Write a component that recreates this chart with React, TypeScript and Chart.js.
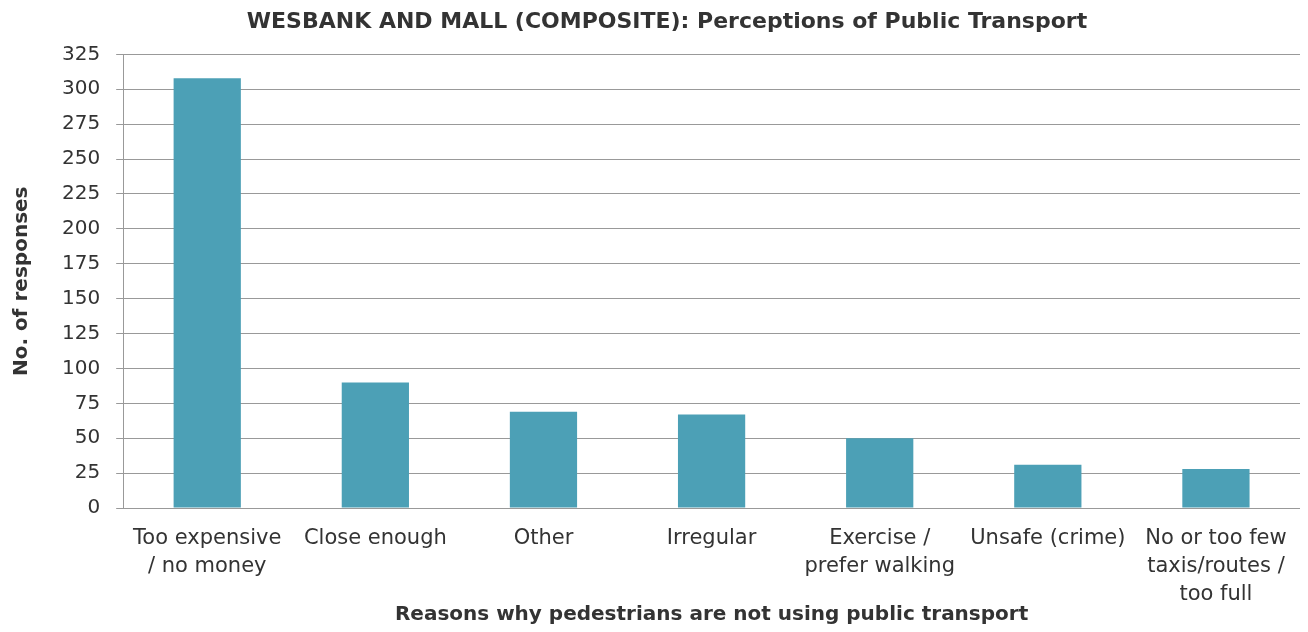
import React, { useEffect, useRef } from "react";
import { Chart, registerables } from "chart.js";

Chart.register(...registerables);

const categories: (string | string[])[] = [
  ["Too expensive", "/ no money"],
  "Close enough",
  "Other",
  "Irregular",
  ["Exercise /", "prefer walking"],
  "Unsafe (crime)",
  ["No or too few", "taxis/routes /", "too full"],
];
const responses: number[] = [308, 90, 69, 67, 50, 31, 28];
const chartTitle = "WESBANK AND MALL (COMPOSITE): Perceptions of Public Transport";
const xTitle = "Reasons why pedestrians are not using public transport";
const yTitle = "No. of responses";
const yMin = 0;
const yMax = 325;
const yStep = 25;

const FONT = "'DejaVu Sans', sans-serif";
const TEXT = "#333333";
const GRID = "#999999";
const BAR = "#4ca0b6";

export default function App() {
  const ref = useRef<HTMLCanvasElement | null>(null);
  useEffect(() => {
    document.body.style.margin = "0";
    const canvas = ref.current;
    if (!canvas) return;
    const chart = new Chart(canvas, {
      type: "bar",
      data: {
        labels: categories,
        datasets: [
          {
            data: responses,
            backgroundColor: BAR,
            borderWidth: 0,
            barPercentage: 0.4,
            categoryPercentage: 1,
          },
        ],
      },
      options: {
        animation: false,
        responsive: false,
        maintainAspectRatio: false,
        layout: { padding: { left: 34, right: 8, top: 0, bottom: 0 } },
        plugins: {
          legend: { display: false },
          tooltip: { enabled: false },
          title: {
            display: true,
            text: chartTitle,
            color: TEXT,
            font: { family: FONT, size: 22, weight: "bold", lineHeight: 1.2 },
            padding: { top: 9, bottom: 19 },
          },
        },
        scales: {
          x: {
            grid: { display: false },
            border: { display: false },
            ticks: {
              color: TEXT,
              font: { family: FONT, size: 21, lineHeight: 1.333 },
              padding: 9,
              maxRotation: 0,
              autoSkip: false,
            },
            title: {
              display: true,
              text: xTitle,
              color: TEXT,
              font: { family: FONT, size: 20, weight: "bold", lineHeight: 1.2 },
              padding: { top: -15, bottom: 5 },
            },
          },
          y: {
            min: yMin,
            max: yMax,
            grid: { color: GRID, lineWidth: 1, tickLength: 7, drawTicks: true },
            border: { display: true, color: GRID, width: 1 },
            ticks: {
              stepSize: yStep,
              color: TEXT,
              font: { family: FONT, size: 20 },
              padding: 16,
            },
            title: {
              display: true,
              text: yTitle,
              color: TEXT,
              font: { family: FONT, size: 20, weight: "bold", lineHeight: 1.2 },
              padding: { top: -24, bottom: 12 },
            },
          },
        },
      },
    });
    return () => chart.destroy();
  }, []);
  return (
    <div style={{ width: 1308, height: 632, background: "#fff" }}>
      <canvas ref={ref} width={1308} height={632} style={{ display: "block" }} />
    </div>
  );
}
